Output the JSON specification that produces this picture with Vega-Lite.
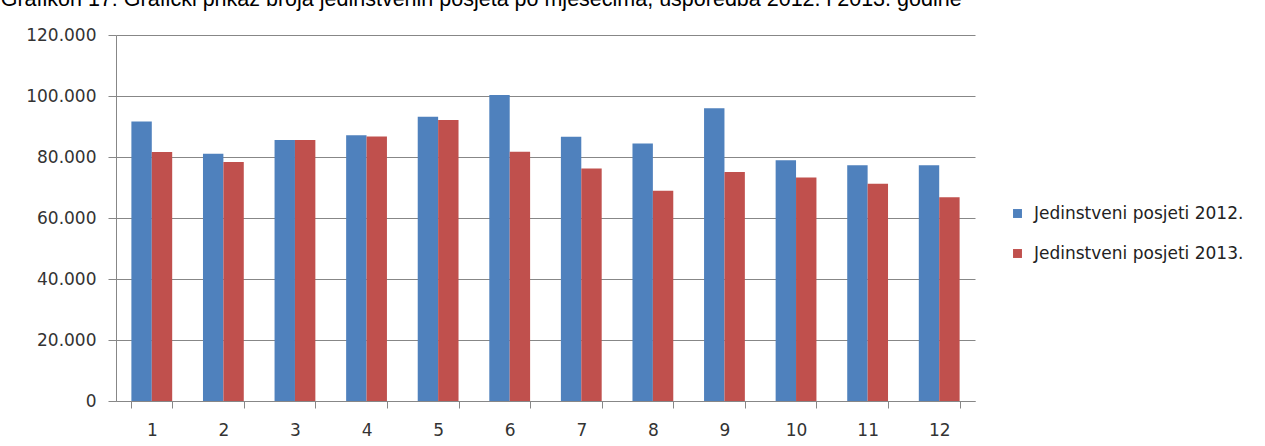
{
  "$schema": "https://vega.github.io/schema/vega-lite/v6.json",
  "width": 859,
  "height": 366,
  "padding": {"left": 0, "top": -12, "right": 0, "bottom": 0},
  "background": "white",
  "title": {
    "text": "Grafikon 17: Grafički prikaz broja jedinstvenih posjeta po mjesecima, usporedba 2012. i 2013. godine",
    "anchor": "start",
    "font": "Liberation Sans",
    "fontSize": 21.5,
    "fontWeight": "normal",
    "color": "#000000",
    "offset": 16,
    "dx": -25
  },
  "data": {
    "values": [
      {"month": 1, "series": "Jedinstveni posjeti 2012.", "value": 91600},
      {"month": 1, "series": "Jedinstveni posjeti 2013.", "value": 81600},
      {"month": 2, "series": "Jedinstveni posjeti 2012.", "value": 81100},
      {"month": 2, "series": "Jedinstveni posjeti 2013.", "value": 78400},
      {"month": 3, "series": "Jedinstveni posjeti 2012.", "value": 85600},
      {"month": 3, "series": "Jedinstveni posjeti 2013.", "value": 85600},
      {"month": 4, "series": "Jedinstveni posjeti 2012.", "value": 87100},
      {"month": 4, "series": "Jedinstveni posjeti 2013.", "value": 86700},
      {"month": 5, "series": "Jedinstveni posjeti 2012.", "value": 93200},
      {"month": 5, "series": "Jedinstveni posjeti 2013.", "value": 92100},
      {"month": 6, "series": "Jedinstveni posjeti 2012.", "value": 100300},
      {"month": 6, "series": "Jedinstveni posjeti 2013.", "value": 81700},
      {"month": 7, "series": "Jedinstveni posjeti 2012.", "value": 86600},
      {"month": 7, "series": "Jedinstveni posjeti 2013.", "value": 76200},
      {"month": 8, "series": "Jedinstveni posjeti 2012.", "value": 84400},
      {"month": 8, "series": "Jedinstveni posjeti 2013.", "value": 68900},
      {"month": 9, "series": "Jedinstveni posjeti 2012.", "value": 96000},
      {"month": 9, "series": "Jedinstveni posjeti 2013.", "value": 75100},
      {"month": 10, "series": "Jedinstveni posjeti 2012.", "value": 78900},
      {"month": 10, "series": "Jedinstveni posjeti 2013.", "value": 73300},
      {"month": 11, "series": "Jedinstveni posjeti 2012.", "value": 77300},
      {"month": 11, "series": "Jedinstveni posjeti 2013.", "value": 71200},
      {"month": 12, "series": "Jedinstveni posjeti 2012.", "value": 77300},
      {"month": 12, "series": "Jedinstveni posjeti 2013.", "value": 66800}
    ]
  },
  "mark": {"type": "bar"},
  "encoding": {
    "x": {
      "field": "month",
      "type": "ordinal",
      "scale": {"paddingInner": 0.43, "paddingOuter": 0.215},
      "axis": {
        "title": null,
        "labelAngle": 0,
        "tickBand": "extent",
        "grid": false,
        "domainColor": "#878787",
        "tickColor": "#878787",
        "tickSize": 7,
        "labelFont": "DejaVu Sans",
        "labelFontSize": 17,
        "labelColor": "#333333",
        "labelPadding": 14
      }
    },
    "xOffset": {"field": "series", "type": "nominal"},
    "y": {
      "field": "value",
      "type": "quantitative",
      "scale": {"domain": [0, 120000], "nice": false},
      "axis": {
        "title": null,
        "values": [0, 20000, 40000, 60000, 80000, 100000, 120000],
        "labelExpr": "replace(format(datum.value, ','), ',', '.')",
        "grid": true,
        "gridColor": "#878787",
        "gridOpacity": 1,
        "domainColor": "#878787",
        "tickColor": "#878787",
        "tickSize": 8,
        "labelFont": "DejaVu Sans",
        "labelFontSize": 17,
        "labelColor": "#333333",
        "labelPadding": 12
      }
    },
    "color": {
      "field": "series",
      "type": "nominal",
      "scale": {"range": ["#4F81BD", "#C0504D"]},
      "legend": {
        "title": null,
        "orient": "none",
        "legendX": 893,
        "legendY": 170,
        "symbolType": "square",
        "symbolSize": 80,
        "symbolStrokeWidth": 0,
        "symbolOpacity": 1,
        "labelFont": "DejaVu Sans",
        "labelFontSize": 17,
        "labelColor": "#222222",
        "labelOffset": 8,
        "labelLimit": 0,
        "rowPadding": 22
      }
    }
  },
  "config": {
    "view": {"stroke": null}
  }
}
